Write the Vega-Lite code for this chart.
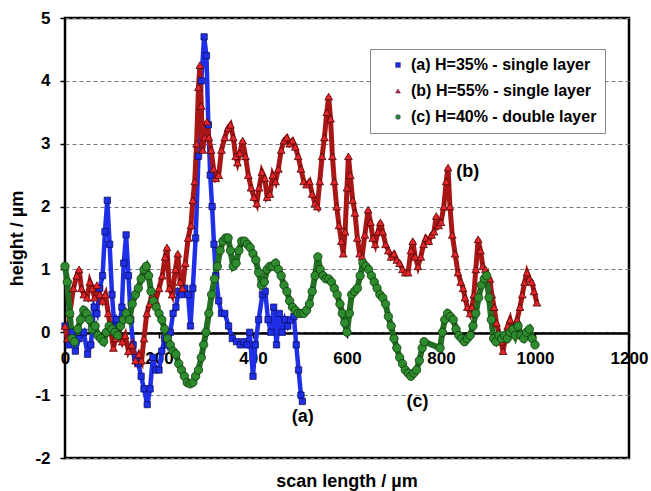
{
 "$schema": "https://vega.github.io/schema/vega-lite/v6.json",
 "width": 564, "height": 440,
 "autosize": {"type": "none"},
 "padding": {"left": 65, "top": 18, "right": 22, "bottom": 33},
 "background": "white",
 "config": {"font": "Liberation Sans", "view": {"stroke": "black", "strokeWidth": 2.5}},
 "title": {"text": "scan length / µm", "orient": "bottom", "anchor": "middle", "fontSize": 18, "fontWeight": "bold", "color": "black", "offset": 7},
 "datasets": {
  "profiles": [
{"series":"(a) H=35% - single layer","x":0,"y":0.1},{"series":"(a) H=35% - single layer","x":8,"y":-0.2},{"series":"(a) H=35% - single layer","x":15,"y":0.0},{"series":"(a) H=35% - single layer","x":22,"y":-0.3},{"series":"(a) H=35% - single layer","x":30,"y":-0.1},{"series":"(a) H=35% - single layer","x":40,"y":0.0},{"series":"(a) H=35% - single layer","x":48,"y":-0.35},{"series":"(a) H=35% - single layer","x":55,"y":-0.2},{"series":"(a) H=35% - single layer","x":62,"y":0.4},{"series":"(a) H=35% - single layer","x":68,"y":0.3},{"series":"(a) H=35% - single layer","x":74,"y":0.7},{"series":"(a) H=35% - single layer","x":80,"y":0.9},{"series":"(a) H=35% - single layer","x":85,"y":1.6},{"series":"(a) H=35% - single layer","x":90,"y":2.1},{"series":"(a) H=35% - single layer","x":95,"y":1.4},{"series":"(a) H=35% - single layer","x":100,"y":0.6},{"series":"(a) H=35% - single layer","x":105,"y":0.1},{"series":"(a) H=35% - single layer","x":110,"y":0.2},{"series":"(a) H=35% - single layer","x":116,"y":0.1},{"series":"(a) H=35% - single layer","x":121,"y":0.4},{"series":"(a) H=35% - single layer","x":125,"y":1.1},{"series":"(a) H=35% - single layer","x":130,"y":1.55},{"series":"(a) H=35% - single layer","x":135,"y":0.9},{"series":"(a) H=35% - single layer","x":140,"y":0.2},{"series":"(a) H=35% - single layer","x":145,"y":-0.2},{"series":"(a) H=35% - single layer","x":150,"y":-0.4},{"series":"(a) H=35% - single layer","x":156,"y":-0.5},{"series":"(a) H=35% - single layer","x":162,"y":-0.7},{"series":"(a) H=35% - single layer","x":168,"y":-0.9},{"series":"(a) H=35% - single layer","x":175,"y":-1.15},{"series":"(a) H=35% - single layer","x":181,"y":-0.9},{"series":"(a) H=35% - single layer","x":187,"y":-0.4},{"series":"(a) H=35% - single layer","x":193,"y":-0.6},{"series":"(a) H=35% - single layer","x":200,"y":-0.6},{"series":"(a) H=35% - single layer","x":206,"y":-0.3},{"series":"(a) H=35% - single layer","x":212,"y":-0.1},{"series":"(a) H=35% - single layer","x":218,"y":-0.2},{"series":"(a) H=35% - single layer","x":224,"y":0.0},{"series":"(a) H=35% - single layer","x":230,"y":0.3},{"series":"(a) H=35% - single layer","x":236,"y":0.4},{"series":"(a) H=35% - single layer","x":242,"y":0.65},{"series":"(a) H=35% - single layer","x":248,"y":0.6},{"series":"(a) H=35% - single layer","x":255,"y":0.7},{"series":"(a) H=35% - single layer","x":262,"y":0.6},{"series":"(a) H=35% - single layer","x":267,"y":0.1},{"series":"(a) H=35% - single layer","x":272,"y":0.7},{"series":"(a) H=35% - single layer","x":278,"y":1.5},{"series":"(a) H=35% - single layer","x":284,"y":2.8},{"series":"(a) H=35% - single layer","x":290,"y":4.0},{"series":"(a) H=35% - single layer","x":296,"y":4.7},{"series":"(a) H=35% - single layer","x":301,"y":4.4},{"series":"(a) H=35% - single layer","x":305,"y":3.3},{"series":"(a) H=35% - single layer","x":309,"y":2.5},{"series":"(a) H=35% - single layer","x":313,"y":2.0},{"series":"(a) H=35% - single layer","x":317,"y":1.4},{"series":"(a) H=35% - single layer","x":321,"y":0.9},{"series":"(a) H=35% - single layer","x":327,"y":0.5},{"series":"(a) H=35% - single layer","x":333,"y":0.3},{"series":"(a) H=35% - single layer","x":340,"y":0.3},{"series":"(a) H=35% - single layer","x":348,"y":0.1},{"series":"(a) H=35% - single layer","x":356,"y":-0.1},{"series":"(a) H=35% - single layer","x":365,"y":-0.15},{"series":"(a) H=35% - single layer","x":373,"y":-0.2},{"series":"(a) H=35% - single layer","x":380,"y":-0.15},{"series":"(a) H=35% - single layer","x":387,"y":-0.2},{"series":"(a) H=35% - single layer","x":393,"y":0.0},{"series":"(a) H=35% - single layer","x":400,"y":-0.7},{"series":"(a) H=35% - single layer","x":405,"y":-0.2},{"series":"(a) H=35% - single layer","x":412,"y":0.2},{"series":"(a) H=35% - single layer","x":420,"y":0.6},{"series":"(a) H=35% - single layer","x":426,"y":0.65},{"series":"(a) H=35% - single layer","x":432,"y":0.2},{"series":"(a) H=35% - single layer","x":438,"y":0.0},{"series":"(a) H=35% - single layer","x":444,"y":0.4},{"series":"(a) H=35% - single layer","x":450,"y":-0.2},{"series":"(a) H=35% - single layer","x":456,"y":0.3},{"series":"(a) H=35% - single layer","x":462,"y":0.0},{"series":"(a) H=35% - single layer","x":468,"y":0.2},{"series":"(a) H=35% - single layer","x":474,"y":0.1},{"series":"(a) H=35% - single layer","x":480,"y":0.2},{"series":"(a) H=35% - single layer","x":487,"y":0.25},{"series":"(a) H=35% - single layer","x":492,"y":-0.2},{"series":"(a) H=35% - single layer","x":497,"y":-0.6},{"series":"(a) H=35% - single layer","x":502,"y":-1.0},{"series":"(a) H=35% - single layer","x":505,"y":-1.1},
{"series":"(b) H=55% - single layer","x":0,"y":0.1},{"series":"(b) H=55% - single layer","x":5,"y":-0.1},{"series":"(b) H=55% - single layer","x":10,"y":0.3},{"series":"(b) H=55% - single layer","x":18,"y":0.7},{"series":"(b) H=55% - single layer","x":25,"y":0.9},{"series":"(b) H=55% - single layer","x":30,"y":1.0},{"series":"(b) H=55% - single layer","x":35,"y":0.7},{"series":"(b) H=55% - single layer","x":40,"y":0.6},{"series":"(b) H=55% - single layer","x":47,"y":0.55},{"series":"(b) H=55% - single layer","x":53,"y":0.8},{"series":"(b) H=55% - single layer","x":58,"y":0.7},{"series":"(b) H=55% - single layer","x":63,"y":0.55},{"series":"(b) H=55% - single layer","x":68,"y":0.75},{"series":"(b) H=55% - single layer","x":74,"y":0.6},{"series":"(b) H=55% - single layer","x":80,"y":0.5},{"series":"(b) H=55% - single layer","x":86,"y":0.6},{"series":"(b) H=55% - single layer","x":92,"y":0.3},{"series":"(b) H=55% - single layer","x":98,"y":0.0},{"series":"(b) H=55% - single layer","x":103,"y":-0.25},{"series":"(b) H=55% - single layer","x":108,"y":-0.1},{"series":"(b) H=55% - single layer","x":115,"y":0.0},{"series":"(b) H=55% - single layer","x":122,"y":-0.15},{"series":"(b) H=55% - single layer","x":128,"y":-0.05},{"series":"(b) H=55% - single layer","x":135,"y":-0.3},{"series":"(b) H=55% - single layer","x":142,"y":-0.2},{"series":"(b) H=55% - single layer","x":150,"y":-0.45},{"series":"(b) H=55% - single layer","x":157,"y":-0.35},{"series":"(b) H=55% - single layer","x":163,"y":-0.45},{"series":"(b) H=55% - single layer","x":168,"y":-0.1},{"series":"(b) H=55% - single layer","x":174,"y":0.3},{"series":"(b) H=55% - single layer","x":180,"y":0.45},{"series":"(b) H=55% - single layer","x":186,"y":0.6},{"series":"(b) H=55% - single layer","x":193,"y":0.5},{"series":"(b) H=55% - single layer","x":200,"y":0.7},{"series":"(b) H=55% - single layer","x":207,"y":0.9},{"series":"(b) H=55% - single layer","x":213,"y":1.2},{"series":"(b) H=55% - single layer","x":217,"y":1.35},{"series":"(b) H=55% - single layer","x":222,"y":0.7},{"series":"(b) H=55% - single layer","x":228,"y":0.6},{"series":"(b) H=55% - single layer","x":235,"y":1.0},{"series":"(b) H=55% - single layer","x":240,"y":1.25},{"series":"(b) H=55% - single layer","x":245,"y":0.8},{"series":"(b) H=55% - single layer","x":250,"y":0.7},{"series":"(b) H=55% - single layer","x":256,"y":1.1},{"series":"(b) H=55% - single layer","x":262,"y":1.5},{"series":"(b) H=55% - single layer","x":268,"y":1.7},{"series":"(b) H=55% - single layer","x":272,"y":2.1},{"series":"(b) H=55% - single layer","x":276,"y":2.4},{"series":"(b) H=55% - single layer","x":280,"y":3.0},{"series":"(b) H=55% - single layer","x":284,"y":3.9},{"series":"(b) H=55% - single layer","x":287,"y":4.25},{"series":"(b) H=55% - single layer","x":290,"y":3.6},{"series":"(b) H=55% - single layer","x":293,"y":2.9},{"series":"(b) H=55% - single layer","x":297,"y":3.1},{"series":"(b) H=55% - single layer","x":302,"y":3.35},{"series":"(b) H=55% - single layer","x":306,"y":3.1},{"series":"(b) H=55% - single layer","x":311,"y":2.9},{"series":"(b) H=55% - single layer","x":316,"y":2.6},{"series":"(b) H=55% - single layer","x":321,"y":2.45},{"series":"(b) H=55% - single layer","x":327,"y":2.5},{"series":"(b) H=55% - single layer","x":333,"y":2.9},{"series":"(b) H=55% - single layer","x":340,"y":3.1},{"series":"(b) H=55% - single layer","x":347,"y":3.25},{"series":"(b) H=55% - single layer","x":352,"y":3.3},{"series":"(b) H=55% - single layer","x":358,"y":3.1},{"series":"(b) H=55% - single layer","x":363,"y":2.8},{"series":"(b) H=55% - single layer","x":367,"y":2.7},{"series":"(b) H=55% - single layer","x":372,"y":2.85},{"series":"(b) H=55% - single layer","x":378,"y":3.05},{"series":"(b) H=55% - single layer","x":384,"y":2.8},{"series":"(b) H=55% - single layer","x":390,"y":2.5},{"series":"(b) H=55% - single layer","x":396,"y":2.3},{"series":"(b) H=55% - single layer","x":402,"y":2.15},{"series":"(b) H=55% - single layer","x":408,"y":2.05},{"series":"(b) H=55% - single layer","x":413,"y":2.3},{"series":"(b) H=55% - single layer","x":419,"y":2.55},{"series":"(b) H=55% - single layer","x":425,"y":2.45},{"series":"(b) H=55% - single layer","x":430,"y":2.15},{"series":"(b) H=55% - single layer","x":436,"y":2.2},{"series":"(b) H=55% - single layer","x":442,"y":2.5},{"series":"(b) H=55% - single layer","x":448,"y":2.4},{"series":"(b) H=55% - single layer","x":454,"y":2.6},{"series":"(b) H=55% - single layer","x":460,"y":2.9},{"series":"(b) H=55% - single layer","x":466,"y":3.05},{"series":"(b) H=55% - single layer","x":472,"y":3.1},{"series":"(b) H=55% - single layer","x":478,"y":3.0},{"series":"(b) H=55% - single layer","x":484,"y":3.05},{"series":"(b) H=55% - single layer","x":490,"y":2.95},{"series":"(b) H=55% - single layer","x":496,"y":2.8},{"series":"(b) H=55% - single layer","x":502,"y":2.6},{"series":"(b) H=55% - single layer","x":508,"y":2.4},{"series":"(b) H=55% - single layer","x":514,"y":2.35},{"series":"(b) H=55% - single layer","x":520,"y":2.4},{"series":"(b) H=55% - single layer","x":526,"y":2.2},{"series":"(b) H=55% - single layer","x":532,"y":2.05},{"series":"(b) H=55% - single layer","x":537,"y":2.0},{"series":"(b) H=55% - single layer","x":542,"y":2.4},{"series":"(b) H=55% - single layer","x":547,"y":2.8},{"series":"(b) H=55% - single layer","x":552,"y":3.1},{"series":"(b) H=55% - single layer","x":557,"y":3.5},{"series":"(b) H=55% - single layer","x":561,"y":3.75},{"series":"(b) H=55% - single layer","x":565,"y":3.4},{"series":"(b) H=55% - single layer","x":569,"y":2.8},{"series":"(b) H=55% - single layer","x":573,"y":2.4},{"series":"(b) H=55% - single layer","x":578,"y":2.0},{"series":"(b) H=55% - single layer","x":583,"y":1.7},{"series":"(b) H=55% - single layer","x":588,"y":1.45},{"series":"(b) H=55% - single layer","x":592,"y":1.25},{"series":"(b) H=55% - single layer","x":596,"y":1.6},{"series":"(b) H=55% - single layer","x":600,"y":2.3},{"series":"(b) H=55% - single layer","x":603,"y":2.8},{"series":"(b) H=55% - single layer","x":607,"y":2.5},{"series":"(b) H=55% - single layer","x":612,"y":2.1},{"series":"(b) H=55% - single layer","x":617,"y":1.9},{"series":"(b) H=55% - single layer","x":622,"y":1.5},{"series":"(b) H=55% - single layer","x":627,"y":1.25},{"series":"(b) H=55% - single layer","x":632,"y":1.2},{"series":"(b) H=55% - single layer","x":638,"y":1.55},{"series":"(b) H=55% - single layer","x":645,"y":1.95},{"series":"(b) H=55% - single layer","x":650,"y":1.75},{"series":"(b) H=55% - single layer","x":655,"y":1.5},{"series":"(b) H=55% - single layer","x":660,"y":1.4},{"series":"(b) H=55% - single layer","x":666,"y":1.6},{"series":"(b) H=55% - single layer","x":671,"y":1.75},{"series":"(b) H=55% - single layer","x":676,"y":1.6},{"series":"(b) H=55% - single layer","x":682,"y":1.4},{"series":"(b) H=55% - single layer","x":688,"y":1.3},{"series":"(b) H=55% - single layer","x":694,"y":1.2},{"series":"(b) H=55% - single layer","x":700,"y":1.25},{"series":"(b) H=55% - single layer","x":706,"y":1.15},{"series":"(b) H=55% - single layer","x":712,"y":1.1},{"series":"(b) H=55% - single layer","x":718,"y":1.0},{"series":"(b) H=55% - single layer","x":724,"y":0.95},{"series":"(b) H=55% - single layer","x":730,"y":0.95},{"series":"(b) H=55% - single layer","x":736,"y":1.3},{"series":"(b) H=55% - single layer","x":740,"y":1.45},{"series":"(b) H=55% - single layer","x":745,"y":1.2},{"series":"(b) H=55% - single layer","x":751,"y":1.05},{"series":"(b) H=55% - single layer","x":757,"y":1.2},{"series":"(b) H=55% - single layer","x":763,"y":1.4},{"series":"(b) H=55% - single layer","x":768,"y":1.5},{"series":"(b) H=55% - single layer","x":774,"y":1.45},{"series":"(b) H=55% - single layer","x":780,"y":1.55},{"series":"(b) H=55% - single layer","x":785,"y":1.6},{"series":"(b) H=55% - single layer","x":790,"y":1.85},{"series":"(b) H=55% - single layer","x":795,"y":1.7},{"series":"(b) H=55% - single layer","x":800,"y":1.75},{"series":"(b) H=55% - single layer","x":806,"y":2.0},{"series":"(b) H=55% - single layer","x":811,"y":2.4},{"series":"(b) H=55% - single layer","x":815,"y":2.62},{"series":"(b) H=55% - single layer","x":819,"y":2.0},{"series":"(b) H=55% - single layer","x":824,"y":1.55},{"series":"(b) H=55% - single layer","x":830,"y":1.25},{"series":"(b) H=55% - single layer","x":836,"y":0.95},{"series":"(b) H=55% - single layer","x":842,"y":0.8},{"series":"(b) H=55% - single layer","x":847,"y":0.7},{"series":"(b) H=55% - single layer","x":851,"y":0.55},{"series":"(b) H=55% - single layer","x":856,"y":0.4},{"series":"(b) H=55% - single layer","x":862,"y":0.3},{"series":"(b) H=55% - single layer","x":866,"y":0.4},{"series":"(b) H=55% - single layer","x":870,"y":0.6},{"series":"(b) H=55% - single layer","x":874,"y":1.0},{"series":"(b) H=55% - single layer","x":879,"y":1.48},{"series":"(b) H=55% - single layer","x":884,"y":1.3},{"series":"(b) H=55% - single layer","x":889,"y":1.05},{"series":"(b) H=55% - single layer","x":894,"y":1.0},{"series":"(b) H=55% - single layer","x":899,"y":0.9},{"series":"(b) H=55% - single layer","x":904,"y":0.85},{"series":"(b) H=55% - single layer","x":908,"y":0.6},{"series":"(b) H=55% - single layer","x":913,"y":0.4},{"series":"(b) H=55% - single layer","x":918,"y":0.15},{"series":"(b) H=55% - single layer","x":923,"y":0.0},{"series":"(b) H=55% - single layer","x":928,"y":-0.15},{"series":"(b) H=55% - single layer","x":932,"y":-0.3},{"series":"(b) H=55% - single layer","x":937,"y":-0.1},{"series":"(b) H=55% - single layer","x":942,"y":0.1},{"series":"(b) H=55% - single layer","x":947,"y":0.2},{"series":"(b) H=55% - single layer","x":952,"y":0.05},{"series":"(b) H=55% - single layer","x":957,"y":0.1},{"series":"(b) H=55% - single layer","x":962,"y":0.2},{"series":"(b) H=55% - single layer","x":968,"y":0.4},{"series":"(b) H=55% - single layer","x":973,"y":0.6},{"series":"(b) H=55% - single layer","x":978,"y":0.8},{"series":"(b) H=55% - single layer","x":983,"y":0.95},{"series":"(b) H=55% - single layer","x":988,"y":0.85},{"series":"(b) H=55% - single layer","x":993,"y":0.8},{"series":"(b) H=55% - single layer","x":998,"y":0.65},{"series":"(b) H=55% - single layer","x":1004,"y":0.47},
{"series":"(c) H=40% - double layer","x":0,"y":1.05},{"series":"(c) H=40% - double layer","x":5,"y":0.8},{"series":"(c) H=40% - double layer","x":10,"y":0.3},{"series":"(c) H=40% - double layer","x":15,"y":-0.1},{"series":"(c) H=40% - double layer","x":20,"y":-0.15},{"series":"(c) H=40% - double layer","x":27,"y":0.05},{"series":"(c) H=40% - double layer","x":33,"y":0.2},{"series":"(c) H=40% - double layer","x":40,"y":0.35},{"series":"(c) H=40% - double layer","x":46,"y":0.3},{"series":"(c) H=40% - double layer","x":52,"y":0.2},{"series":"(c) H=40% - double layer","x":58,"y":0.05},{"series":"(c) H=40% - double layer","x":64,"y":0.1},{"series":"(c) H=40% - double layer","x":70,"y":-0.05},{"series":"(c) H=40% - double layer","x":76,"y":-0.1},{"series":"(c) H=40% - double layer","x":82,"y":-0.15},{"series":"(c) H=40% - double layer","x":88,"y":0.0},{"series":"(c) H=40% - double layer","x":94,"y":0.1},{"series":"(c) H=40% - double layer","x":100,"y":0.05},{"series":"(c) H=40% - double layer","x":106,"y":0.0},{"series":"(c) H=40% - double layer","x":112,"y":-0.05},{"series":"(c) H=40% - double layer","x":118,"y":0.1},{"series":"(c) H=40% - double layer","x":124,"y":0.2},{"series":"(c) H=40% - double layer","x":130,"y":0.3},{"series":"(c) H=40% - double layer","x":137,"y":0.2},{"series":"(c) H=40% - double layer","x":143,"y":0.45},{"series":"(c) H=40% - double layer","x":150,"y":0.6},{"series":"(c) H=40% - double layer","x":156,"y":0.7},{"series":"(c) H=40% - double layer","x":162,"y":0.85},{"series":"(c) H=40% - double layer","x":168,"y":1.0},{"series":"(c) H=40% - double layer","x":173,"y":1.05},{"series":"(c) H=40% - double layer","x":178,"y":0.9},{"series":"(c) H=40% - double layer","x":183,"y":0.65},{"series":"(c) H=40% - double layer","x":188,"y":0.5},{"series":"(c) H=40% - double layer","x":194,"y":0.4},{"series":"(c) H=40% - double layer","x":200,"y":0.3},{"series":"(c) H=40% - double layer","x":206,"y":0.2},{"series":"(c) H=40% - double layer","x":212,"y":0.05},{"series":"(c) H=40% - double layer","x":218,"y":-0.1},{"series":"(c) H=40% - double layer","x":224,"y":-0.2},{"series":"(c) H=40% - double layer","x":230,"y":-0.3},{"series":"(c) H=40% - double layer","x":236,"y":-0.35},{"series":"(c) H=40% - double layer","x":242,"y":-0.5},{"series":"(c) H=40% - double layer","x":248,"y":-0.6},{"series":"(c) H=40% - double layer","x":254,"y":-0.7},{"series":"(c) H=40% - double layer","x":260,"y":-0.8},{"series":"(c) H=40% - double layer","x":266,"y":-0.82},{"series":"(c) H=40% - double layer","x":272,"y":-0.8},{"series":"(c) H=40% - double layer","x":278,"y":-0.7},{"series":"(c) H=40% - double layer","x":284,"y":-0.6},{"series":"(c) H=40% - double layer","x":290,"y":-0.4},{"series":"(c) H=40% - double layer","x":295,"y":-0.2},{"series":"(c) H=40% - double layer","x":300,"y":0.0},{"series":"(c) H=40% - double layer","x":306,"y":0.3},{"series":"(c) H=40% - double layer","x":312,"y":0.6},{"series":"(c) H=40% - double layer","x":318,"y":0.85},{"series":"(c) H=40% - double layer","x":324,"y":1.05},{"series":"(c) H=40% - double layer","x":330,"y":1.3},{"series":"(c) H=40% - double layer","x":336,"y":1.45},{"series":"(c) H=40% - double layer","x":342,"y":1.5},{"series":"(c) H=40% - double layer","x":347,"y":1.5},{"series":"(c) H=40% - double layer","x":352,"y":1.3},{"series":"(c) H=40% - double layer","x":358,"y":1.05},{"series":"(c) H=40% - double layer","x":364,"y":1.1},{"series":"(c) H=40% - double layer","x":370,"y":1.3},{"series":"(c) H=40% - double layer","x":376,"y":1.45},{"series":"(c) H=40% - double layer","x":382,"y":1.45},{"series":"(c) H=40% - double layer","x":388,"y":1.4},{"series":"(c) H=40% - double layer","x":394,"y":1.35},{"series":"(c) H=40% - double layer","x":400,"y":1.25},{"series":"(c) H=40% - double layer","x":406,"y":1.15},{"series":"(c) H=40% - double layer","x":412,"y":0.95},{"series":"(c) H=40% - double layer","x":418,"y":0.75},{"series":"(c) H=40% - double layer","x":424,"y":0.8},{"series":"(c) H=40% - double layer","x":430,"y":1.0},{"series":"(c) H=40% - double layer","x":436,"y":1.05},{"series":"(c) H=40% - double layer","x":442,"y":1.05},{"series":"(c) H=40% - double layer","x":448,"y":1.1},{"series":"(c) H=40% - double layer","x":454,"y":1.0},{"series":"(c) H=40% - double layer","x":460,"y":0.9},{"series":"(c) H=40% - double layer","x":466,"y":0.75},{"series":"(c) H=40% - double layer","x":472,"y":0.65},{"series":"(c) H=40% - double layer","x":478,"y":0.5},{"series":"(c) H=40% - double layer","x":484,"y":0.4},{"series":"(c) H=40% - double layer","x":490,"y":0.35},{"series":"(c) H=40% - double layer","x":496,"y":0.3},{"series":"(c) H=40% - double layer","x":502,"y":0.3},{"series":"(c) H=40% - double layer","x":508,"y":0.3},{"series":"(c) H=40% - double layer","x":514,"y":0.35},{"series":"(c) H=40% - double layer","x":520,"y":0.45},{"series":"(c) H=40% - double layer","x":526,"y":0.65},{"series":"(c) H=40% - double layer","x":532,"y":0.9},{"series":"(c) H=40% - double layer","x":538,"y":1.2},{"series":"(c) H=40% - double layer","x":543,"y":1.0},{"series":"(c) H=40% - double layer","x":549,"y":0.9},{"series":"(c) H=40% - double layer","x":555,"y":0.85},{"series":"(c) H=40% - double layer","x":561,"y":0.85},{"series":"(c) H=40% - double layer","x":567,"y":0.8},{"series":"(c) H=40% - double layer","x":573,"y":0.7},{"series":"(c) H=40% - double layer","x":579,"y":0.6},{"series":"(c) H=40% - double layer","x":585,"y":0.45},{"series":"(c) H=40% - double layer","x":590,"y":0.3},{"series":"(c) H=40% - double layer","x":595,"y":0.15},{"series":"(c) H=40% - double layer","x":600,"y":0.0},{"series":"(c) H=40% - double layer","x":605,"y":0.3},{"series":"(c) H=40% - double layer","x":610,"y":0.6},{"series":"(c) H=40% - double layer","x":616,"y":0.65},{"series":"(c) H=40% - double layer","x":622,"y":0.7},{"series":"(c) H=40% - double layer","x":628,"y":0.9},{"series":"(c) H=40% - double layer","x":634,"y":1.1},{"series":"(c) H=40% - double layer","x":640,"y":1.05},{"series":"(c) H=40% - double layer","x":646,"y":1.0},{"series":"(c) H=40% - double layer","x":652,"y":0.9},{"series":"(c) H=40% - double layer","x":658,"y":0.8},{"series":"(c) H=40% - double layer","x":664,"y":0.7},{"series":"(c) H=40% - double layer","x":670,"y":0.6},{"series":"(c) H=40% - double layer","x":676,"y":0.55},{"series":"(c) H=40% - double layer","x":682,"y":0.45},{"series":"(c) H=40% - double layer","x":688,"y":0.25},{"series":"(c) H=40% - double layer","x":694,"y":0.1},{"series":"(c) H=40% - double layer","x":700,"y":-0.1},{"series":"(c) H=40% - double layer","x":706,"y":-0.25},{"series":"(c) H=40% - double layer","x":712,"y":-0.4},{"series":"(c) H=40% - double layer","x":718,"y":-0.5},{"series":"(c) H=40% - double layer","x":724,"y":-0.6},{"series":"(c) H=40% - double layer","x":730,"y":-0.65},{"series":"(c) H=40% - double layer","x":736,"y":-0.7},{"series":"(c) H=40% - double layer","x":742,"y":-0.65},{"series":"(c) H=40% - double layer","x":748,"y":-0.6},{"series":"(c) H=40% - double layer","x":754,"y":-0.45},{"series":"(c) H=40% - double layer","x":760,"y":-0.25},{"series":"(c) H=40% - double layer","x":764,"y":-0.15},{"series":"(c) H=40% - double layer","x":798,"y":-0.25},{"series":"(c) H=40% - double layer","x":803,"y":0.0},{"series":"(c) H=40% - double layer","x":808,"y":0.2},{"series":"(c) H=40% - double layer","x":814,"y":0.3},{"series":"(c) H=40% - double layer","x":820,"y":0.25},{"series":"(c) H=40% - double layer","x":826,"y":0.2},{"series":"(c) H=40% - double layer","x":832,"y":0.05},{"series":"(c) H=40% - double layer","x":838,"y":-0.05},{"series":"(c) H=40% - double layer","x":844,"y":-0.1},{"series":"(c) H=40% - double layer","x":850,"y":-0.15},{"series":"(c) H=40% - double layer","x":856,"y":-0.1},{"series":"(c) H=40% - double layer","x":862,"y":-0.05},{"series":"(c) H=40% - double layer","x":868,"y":0.1},{"series":"(c) H=40% - double layer","x":874,"y":0.3},{"series":"(c) H=40% - double layer","x":880,"y":0.55},{"series":"(c) H=40% - double layer","x":886,"y":0.75},{"series":"(c) H=40% - double layer","x":892,"y":0.85},{"series":"(c) H=40% - double layer","x":897,"y":0.9},{"series":"(c) H=40% - double layer","x":902,"y":0.55},{"series":"(c) H=40% - double layer","x":907,"y":0.2},{"series":"(c) H=40% - double layer","x":912,"y":-0.1},{"series":"(c) H=40% - double layer","x":917,"y":-0.15},{"series":"(c) H=40% - double layer","x":923,"y":-0.05},{"series":"(c) H=40% - double layer","x":929,"y":-0.1},{"series":"(c) H=40% - double layer","x":935,"y":-0.05},{"series":"(c) H=40% - double layer","x":941,"y":-0.1},{"series":"(c) H=40% - double layer","x":947,"y":0.0},{"series":"(c) H=40% - double layer","x":953,"y":0.05},{"series":"(c) H=40% - double layer","x":958,"y":-0.05},{"series":"(c) H=40% - double layer","x":964,"y":0.1},{"series":"(c) H=40% - double layer","x":970,"y":-0.05},{"series":"(c) H=40% - double layer","x":976,"y":-0.1},{"series":"(c) H=40% - double layer","x":982,"y":0.0},{"series":"(c) H=40% - double layer","x":988,"y":0.05},{"series":"(c) H=40% - double layer","x":994,"y":-0.1},{"series":"(c) H=40% - double layer","x":1000,"y":-0.2}
  ],
  "notes": [{"x": 506, "y": -1.34, "label": "(a)"}, {"x": 857, "y": 2.55, "label": "(b)"}, {"x": 750, "y": -1.11, "label": "(c)"}]
 },
 "layer": [
  {
   "data": {"name": "profiles"},
   "transform": [{"filter": "datum.series === '(a) H=35% - single layer'"}],
   "mark": {"type": "line", "strokeWidth": 4.5, "color": "#1f2fe8"},
   "encoding": {
    "x": {"field": "x", "type": "quantitative", "scale": {"domain": [0, 1200], "nice": false},
      "axis": {"values": [0, 200, 400, 600, 800, 1000, 1200], "format": "d", "offset": -125, "title": null, "grid": false,
        "domainColor": "black", "domainWidth": 2.5, "tickColor": "black", "tickSize": 5, "tickWidth": 1.5,
        "labelFontSize": 17, "labelFontWeight": "bold", "labelColor": "black", "labelPadding": 12,
        "labelFlush": false, "labelOverlap": false}},
    "y": {"field": "y", "type": "quantitative", "scale": {"domain": [-2, 5], "nice": false, "zero": false},
      "axis": {"values": [-2, -1, 0, 1, 2, 3, 4, 5], "title": "height / µm", "titleFontSize": 18, "titleFontWeight": "bold",
        "titleColor": "black", "titleX": -39, "titleY": 220, "titleAngle": -90, "titleBaseline": "bottom", "titleAlign": "center",
        "domain": false, "tickColor": "black", "tickSize": 5, "tickWidth": 1.5,
        "labelFontSize": 17, "labelFontWeight": "bold", "labelColor": "black", "labelPadding": 10,
        "labelExpr": "'' + datum.value",
        "grid": true, "gridColor": "#777777", "gridDash": [4, 3], "gridWidth": 1}}
   }
  },
  {
   "data": {"name": "profiles"},
   "transform": [{"filter": "datum.series === '(b) H=55% - single layer'"}],
   "mark": {"type": "line", "strokeWidth": 5, "color": "#a81616"},
   "encoding": {"x": {"field": "x", "type": "quantitative"}, "y": {"field": "y", "type": "quantitative"}}
  },
  {
   "data": {"name": "profiles"},
   "transform": [{"filter": "datum.series === '(c) H=40% - double layer'"}],
   "mark": {"type": "line", "strokeWidth": 6, "color": "#236f23"},
   "encoding": {"x": {"field": "x", "type": "quantitative"}, "y": {"field": "y", "type": "quantitative"}}
  },
  {
   "data": {"name": "profiles"},
   "transform": [{"filter": "datum.series === '(a) H=35% - single layer'"}],
   "mark": {"type": "point", "filled": true, "opacity": 1, "size": 40, "stroke": "#0a0a50", "strokeWidth": 0.7},
   "encoding": {
    "x": {"field": "x", "type": "quantitative"},
    "y": {"field": "y", "type": "quantitative"},
    "color": {"field": "series", "type": "nominal",
      "scale": {"domain": ["(a) H=35% - single layer", "(b) H=55% - single layer", "(c) H=40% - double layer"], "range": ["#1f2fe8", "#e8262a", "#2e8b2e"]},
      "legend": {"orient": "none", "legendX": 305, "legendY": 31, "title": null, "labelFontSize": 16, "labelFontWeight": "bold",
        "labelColor": "black", "fillColor": "white", "strokeColor": "#888888", "padding": 8, "symbolSize": 22,
        "symbolStrokeWidth": 0.5, "rowPadding": 10, "symbolOffset": 12, "labelOffset": 5, "labelLimit": 400}},
    "shape": {"field": "series", "type": "nominal",
      "scale": {"domain": ["(a) H=35% - single layer", "(b) H=55% - single layer", "(c) H=40% - double layer"], "range": ["square", "triangle-up", "circle"]}}
   }
  },
  {
   "data": {"name": "profiles"},
   "transform": [{"filter": "datum.series === '(b) H=55% - single layer'"}],
   "mark": {"type": "point", "filled": true, "opacity": 1, "size": 60, "stroke": "#4a0808", "strokeWidth": 0.8},
   "encoding": {
    "x": {"field": "x", "type": "quantitative"},
    "y": {"field": "y", "type": "quantitative"},
    "color": {"field": "series", "type": "nominal"},
    "shape": {"field": "series", "type": "nominal"}
   }
  },
  {
   "data": {"name": "profiles"},
   "transform": [{"filter": "datum.series === '(c) H=40% - double layer'"}],
   "mark": {"type": "point", "filled": true, "opacity": 1, "size": 70, "stroke": "#0c3a0c", "strokeWidth": 0.8},
   "encoding": {
    "x": {"field": "x", "type": "quantitative"},
    "y": {"field": "y", "type": "quantitative"},
    "color": {"field": "series", "type": "nominal"},
    "shape": {"field": "series", "type": "nominal"}
   }
  },
  {
   "data": {"name": "notes"},
   "mark": {"type": "text", "fontSize": 18, "fontWeight": "bold", "color": "black"},
   "encoding": {
    "x": {"field": "x", "type": "quantitative"},
    "y": {"field": "y", "type": "quantitative"},
    "text": {"field": "label"}
   }
  }
 ]
}
